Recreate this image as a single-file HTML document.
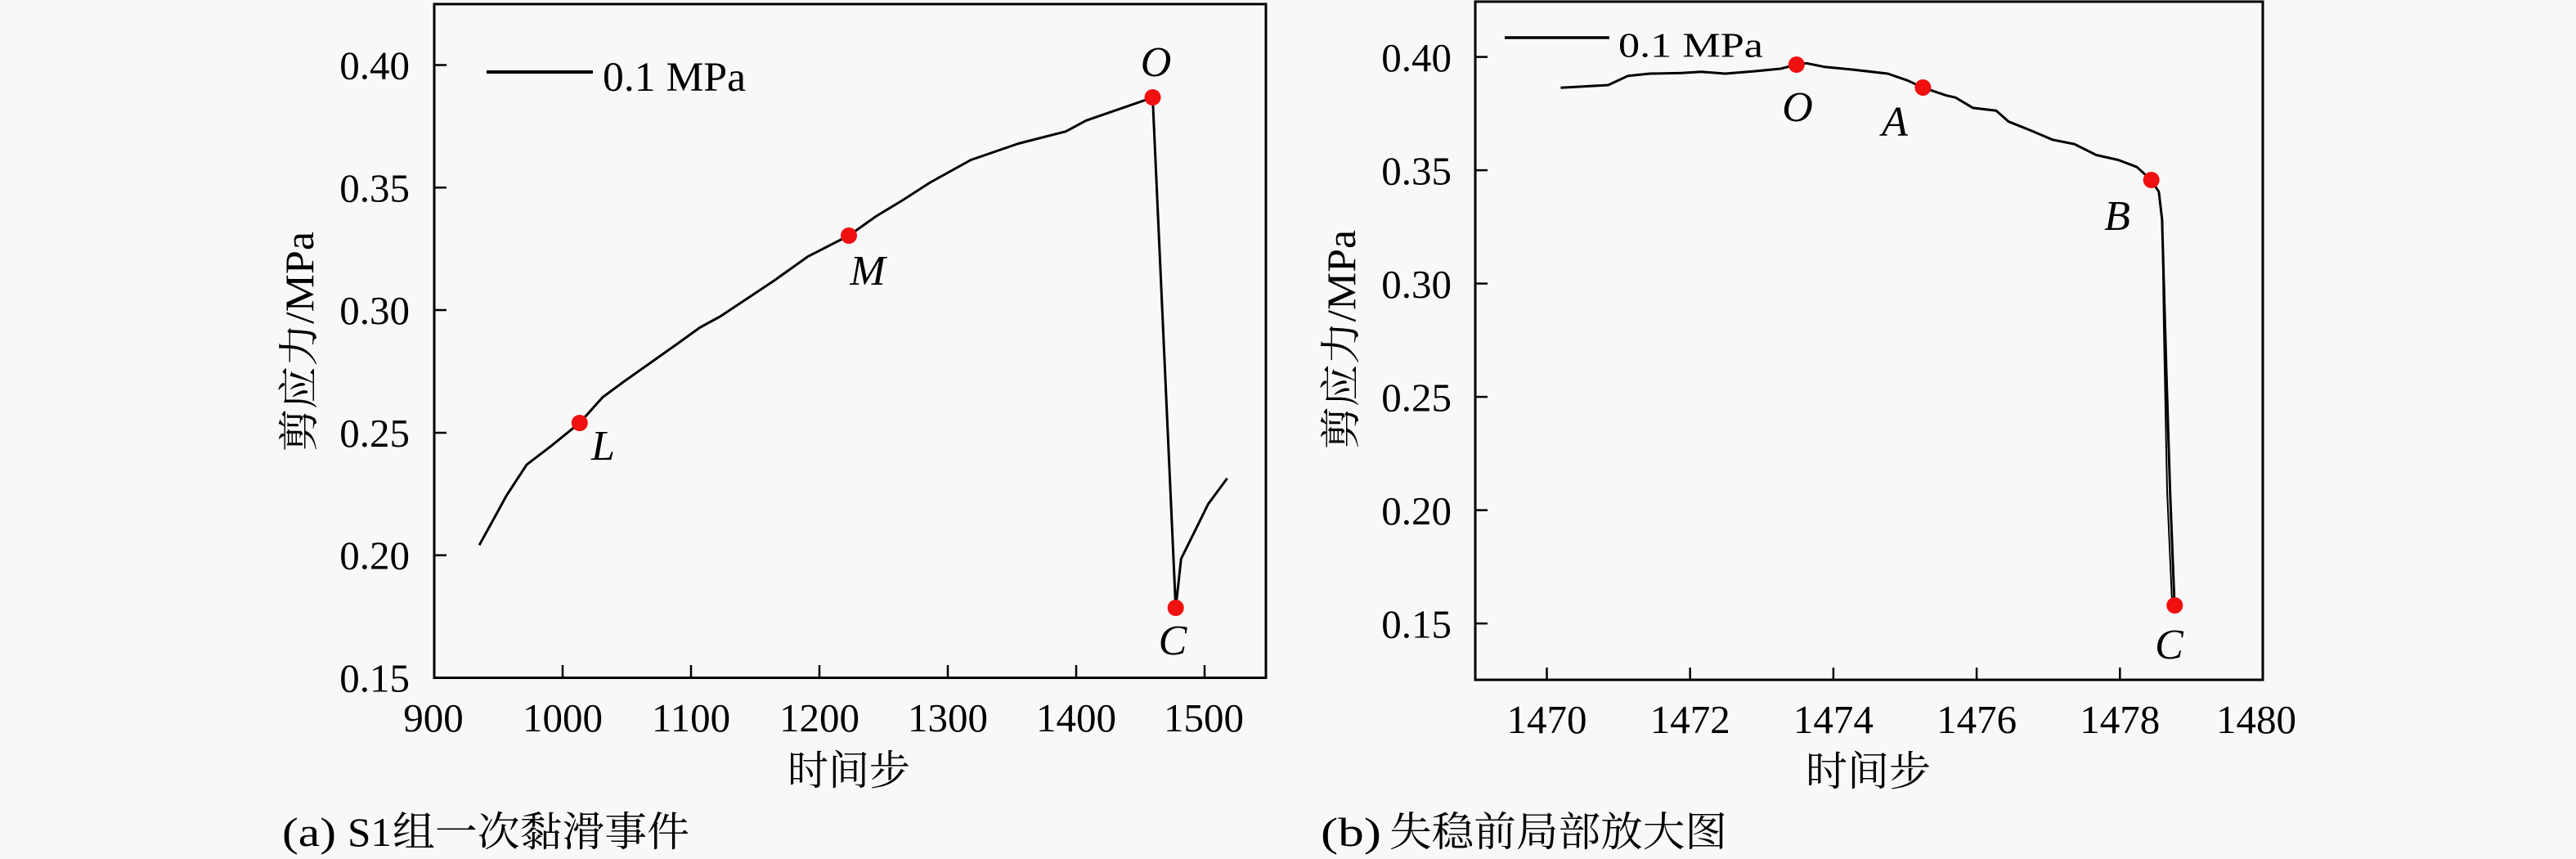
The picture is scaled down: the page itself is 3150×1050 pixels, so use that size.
<!DOCTYPE html>
<html>
<head>
<meta charset="utf-8">
<style>
html,body{margin:0;padding:0;background:#f8f8f8;}
svg{display:block;}
</style>
</head>
<body>
<svg width="3150" height="1050" viewBox="0 0 3150 1050" xmlns="http://www.w3.org/2000/svg">
<rect x="0" y="0" width="3150" height="1050" fill="#f8f8f8"/>

<!-- ================= Panel (a) ================= -->
<g stroke="#000" fill="none">
  <rect x="531" y="5" width="1017" height="823.5" stroke-width="3"/>
  <g stroke-width="2.5">
    <line x1="688" y1="828" x2="688" y2="813"/>
    <line x1="845" y1="828" x2="845" y2="813"/>
    <line x1="1002" y1="828" x2="1002" y2="813"/>
    <line x1="1159" y1="828" x2="1159" y2="813"/>
    <line x1="1316" y1="828" x2="1316" y2="813"/>
    <line x1="1473" y1="828" x2="1473" y2="813"/>
    <line x1="531" y1="678.7" x2="546" y2="678.7"/>
    <line x1="531" y1="529" x2="546" y2="529"/>
    <line x1="531" y1="379" x2="546" y2="379"/>
    <line x1="531" y1="229.3" x2="546" y2="229.3"/>
    <line x1="531" y1="79.5" x2="546" y2="79.5"/>
  </g>
  <line x1="595" y1="88" x2="725" y2="88" stroke-width="4"/>
  <polyline stroke-width="3" stroke-linejoin="round" points="586.1,666.3 602.7,636.2 619.2,606 644.1,567.9 673.1,545.8 708.8,517 737,485.5 764.3,465.4 797.5,442 830.7,418.5 855.6,400.5 880.4,387 913.6,365 946.8,342.9 988.2,313.4 1038,288 1071.1,264.5 1104.3,244.4 1137.5,223 1187.2,195.5 1245.3,175.5 1303.3,160.7 1328.2,147.3 1409.5,119.2 1437.7,743.3 1444.3,683 1460.9,649.6 1477.4,616.1 1500.7,584.6"/>
</g>
<g fill="#f01010">
  <circle cx="708.8" cy="517" r="10"/>
  <circle cx="1038" cy="288" r="10"/>
  <circle cx="1409.5" cy="119" r="10"/>
  <circle cx="1437.7" cy="743" r="10"/>
</g>
<text x="737" y="111" font-family="'Liberation Serif', serif" style="font-family:'Liberation Serif',serif" font-size="51" fill="#000" textLength="175" lengthAdjust="spacingAndGlyphs">0.1 MPa</text>
<g font-family="'Liberation Serif', serif" style="font-family:'Liberation Serif',serif;font-style:italic" font-style="italic" font-size="52" fill="#000" text-anchor="middle">
  <text x="1413.5" y="93">O</text>
  <text x="1061" y="348">M</text>
  <text x="737.5" y="562">L</text>
  <text x="1434" y="800">C</text>
</g>
<g font-family="'Liberation Serif', serif" style="font-family:'Liberation Serif',serif" font-size="49" fill="#000" text-anchor="end">
  <text x="501" y="845.5">0.15</text>
  <text x="501" y="695.7">0.20</text>
  <text x="501" y="546">0.25</text>
  <text x="501" y="396">0.30</text>
  <text x="501" y="246.3">0.35</text>
  <text x="501" y="96.5">0.40</text>
</g>
<g font-family="'Liberation Serif', serif" style="font-family:'Liberation Serif',serif" font-size="49" fill="#000" text-anchor="middle">
  <text x="530" y="894">900</text>
  <text x="688" y="894">1000</text>
  <text x="845" y="894">1100</text>
  <text x="1002" y="894">1200</text>
  <text x="1159" y="894">1300</text>
  <text x="1316" y="894">1400</text>
  <text x="1472" y="894">1500</text>
</g>
<g style="font-family:'Liberation Serif','Noto Serif CJK SC',serif" fill="#000">
  <text font-size="50" x="963" y="959" textLength="150" lengthAdjust="spacingAndGlyphs">时间步</text>
  <text font-size="50" transform="translate(383,417.5) rotate(-90)" text-anchor="middle" textLength="269" lengthAdjust="spacingAndGlyphs">剪应力/MPa</text>
  <text font-size="50" x="345" y="1034" textLength="66" lengthAdjust="spacingAndGlyphs">(a)</text>
  <text font-size="50" x="425" y="1034" textLength="54" lengthAdjust="spacingAndGlyphs">S1</text>
  <text font-size="50" x="480" y="1034" textLength="363" lengthAdjust="spacingAndGlyphs">组一次黏滑事件</text>
</g>

<!-- ================= Panel (b) ================= -->
<g stroke="#000" fill="none">
  <rect x="1804" y="2" width="963" height="829" stroke-width="3"/>
  <g stroke-width="2.5">
    <line x1="1891.5" y1="831" x2="1891.5" y2="816"/>
    <line x1="2066.7" y1="831" x2="2066.7" y2="816"/>
    <line x1="2241.9" y1="831" x2="2241.9" y2="816"/>
    <line x1="2417.1" y1="831" x2="2417.1" y2="816"/>
    <line x1="2592.3" y1="831" x2="2592.3" y2="816"/>
    <line x1="1804" y1="762.1" x2="1819" y2="762.1"/>
    <line x1="1804" y1="623.6" x2="1819" y2="623.6"/>
    <line x1="1804" y1="485.1" x2="1819" y2="485.1"/>
    <line x1="1804" y1="346.6" x2="1819" y2="346.6"/>
    <line x1="1804" y1="208.1" x2="1819" y2="208.1"/>
    <line x1="1804" y1="69.6" x2="1819" y2="69.6"/>
  </g>
  <line x1="1840" y1="46" x2="1968" y2="46" stroke-width="3.5"/>
  <polyline stroke-width="3" stroke-linejoin="round" points="1908.4,107.3 1966.6,104 1990.8,92.7 2017.5,90 2056,89.3 2080.5,87.7 2109.6,90 2143.5,87.3 2177.4,84 2196.8,79 2209,77.3 2230.8,81.7 2264.7,85 2308.3,90 2332.5,98.3 2351.4,107.1 2380,116.7 2391.2,119.2 2412.6,131.9 2441,135.3 2456.3,148.7 2483,159.4 2509.8,170.8 2536.6,176.1 2563.4,189.5 2590.2,195.5 2613.1,204.2 2630.7,220.3 2639.9,234.4 2643.8,267.9 2649.1,455.4 2653.7,602.7 2659,738"/>
  <polyline stroke-width="2" points="2644,264 2646,400 2650,600 2656,735"/>
</g>
<g fill="#f01010">
  <circle cx="2196.8" cy="79" r="10"/>
  <circle cx="2351.4" cy="107" r="10"/>
  <circle cx="2630.7" cy="220" r="10"/>
  <circle cx="2659.3" cy="740" r="10"/>
</g>
<text x="1979" y="69.5" font-family="'Liberation Serif', serif" style="font-family:'Liberation Serif',serif" font-size="42" fill="#000" textLength="177" lengthAdjust="spacingAndGlyphs">0.1 MPa</text>
<g font-family="'Liberation Serif', serif" style="font-family:'Liberation Serif',serif;font-style:italic" font-style="italic" font-size="52" fill="#000" text-anchor="middle">
  <text x="2198" y="148">O</text>
  <text x="2317" y="166">A</text>
  <text x="2589" y="281">B</text>
  <text x="2652.5" y="805">C</text>
</g>
<g font-family="'Liberation Serif', serif" style="font-family:'Liberation Serif',serif" font-size="49" fill="#000" text-anchor="end">
  <text x="1775" y="779.6">0.15</text>
  <text x="1775" y="641.1">0.20</text>
  <text x="1775" y="502.6">0.25</text>
  <text x="1775" y="364.1">0.30</text>
  <text x="1775" y="225.6">0.35</text>
  <text x="1775" y="87.1">0.40</text>
</g>
<g font-family="'Liberation Serif', serif" style="font-family:'Liberation Serif',serif" font-size="49" fill="#000" text-anchor="middle">
  <text x="1891.5" y="896">1470</text>
  <text x="2066.7" y="896">1472</text>
  <text x="2241.9" y="896">1474</text>
  <text x="2417.1" y="896">1476</text>
  <text x="2592.3" y="896">1478</text>
  <text x="2759" y="896">1480</text>
</g>
<g style="font-family:'Liberation Serif','Noto Serif CJK SC',serif" fill="#000">
  <text font-size="50" x="2208" y="960" textLength="153" lengthAdjust="spacingAndGlyphs">时间步</text>
  <text font-size="50" transform="translate(1657,415) rotate(-90)" text-anchor="middle" textLength="268" lengthAdjust="spacingAndGlyphs">剪应力/MPa</text>
  <text font-size="50" x="1615" y="1034" textLength="74" lengthAdjust="spacingAndGlyphs">(b)</text>
  <text font-size="50" x="1699" y="1034" textLength="413" lengthAdjust="spacingAndGlyphs">失稳前局部放大图</text>
</g>
</svg>
</body>
</html>
